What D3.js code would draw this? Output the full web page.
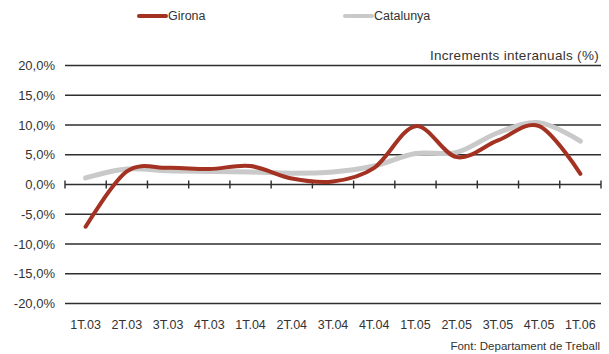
<!DOCTYPE html>
<html><head><meta charset="utf-8">
<script src="https://cdn.jsdelivr.net/npm/d3@7"></script>
<style>body{margin:0;background:#fff}svg{display:block}</style>
</head><body>
<svg id="chart" width="609" height="354"></svg>
<script>
const categories = ["1T.03","2T.03","3T.03","4T.03","1T.04","2T.04","3T.04","4T.04","1T.05","2T.05","3T.05","4T.05","1T.06"];
const girona    = [-7.1, 2.2, 2.8, 2.6, 3.1, 1.0, 0.5, 2.8, 9.8, 4.6, 7.4, 9.8, 1.8];
const catalunya = [1.1, 2.6, 2.3, 2.2, 2.1, 1.9, 2.1, 3.1, 5.2, 5.4, 8.7, 10.4, 7.3];
const yTicks = [-20, -15, -10, -5, 0, 5, 10, 15, 20];
const seriesNames = ["Girona", "Catalunya"];
const colors = ["#a33222", "#c9c9c9"];

const svg = d3.select("#chart");
const font = "'Liberation Sans', Arial, sans-serif";
const x = d3.scaleBand().domain(categories).range([65, 601]);
const y = d3.scaleLinear().domain([-20, 20]).range([303.5, 65.5]);
const fmt = v => v.toFixed(1).replace(".", ",") + "%";

// gridlines
svg.append("g").selectAll("line").data(yTicks).join("line")
  .attr("x1", 65).attr("x2", 601)
  .attr("y1", d => y(d)).attr("y2", d => y(d))
  .attr("stroke", "#2e2e2e").attr("stroke-width", 1.4);

// y labels
svg.append("g").selectAll("text").data(yTicks).join("text")
  .attr("x", 55).attr("y", d => y(d)).attr("dy", "0.35em")
  .attr("text-anchor", "end").attr("font-family", font).attr("font-size", 13)
  .attr("fill", "#333").text(fmt);

// category ticks on zero line
const bounds = categories.map(c => x(c)).concat([x.range()[1]]);
svg.append("g").selectAll("line").data(bounds).join("line")
  .attr("x1", d => d).attr("x2", d => d)
  .attr("y1", y(0) - 4).attr("y2", y(0) + 4)
  .attr("stroke", "#2e2e2e").attr("stroke-width", 1.4);

// x labels
svg.append("g").selectAll("text").data(categories).join("text")
  .attr("x", d => x(d) + x.bandwidth() / 2).attr("y", 329)
  .attr("text-anchor", "middle").attr("font-family", font).attr("font-size", 12.5)
  .attr("fill", "#333").text(d => d);

// lines
const line = d3.line()
  .x((d, i) => x(categories[i]) + x.bandwidth() / 2)
  .y(d => y(d))
  .curve(d3.curveCardinal.tension(0));
[[catalunya, colors[1], 5], [girona, colors[0], 4]].forEach(([vals, c, w]) => {
  svg.append("path").attr("d", line(vals)).attr("fill", "none")
    .attr("stroke", c).attr("stroke-width", w).attr("stroke-linecap", "round")
    .attr("stroke-linejoin", "round");
});

// legend
const legX = [139, 345];
seriesNames.forEach((n, i) => {
  svg.append("line").attr("x1", legX[i]).attr("x2", legX[i] + 27)
    .attr("y1", 16).attr("y2", 16).attr("stroke", colors[i]).attr("stroke-width", 4)
    .attr("stroke-linecap", "round");
  svg.append("text").attr("x", legX[i] + 29).attr("y", 16).attr("dy", "0.35em")
    .attr("font-family", font).attr("font-size", 12.5).attr("fill", "#333").text(n);
});

svg.append("text").attr("x", 599).attr("y", 55).attr("dy", "0.35em")
  .attr("text-anchor", "end").attr("font-family", font).attr("font-size", 13.5)
  .attr("letter-spacing", 0.3)
  .attr("fill", "#333").text("Increments interanuals (%)");
svg.append("text").attr("x", 600).attr("y", 346).attr("dy", "0.35em")
  .attr("text-anchor", "end").attr("font-family", font).attr("font-size", 11.5)
  .attr("fill", "#333").text("Font: Departament de Treball");
</script>
</body></html>
